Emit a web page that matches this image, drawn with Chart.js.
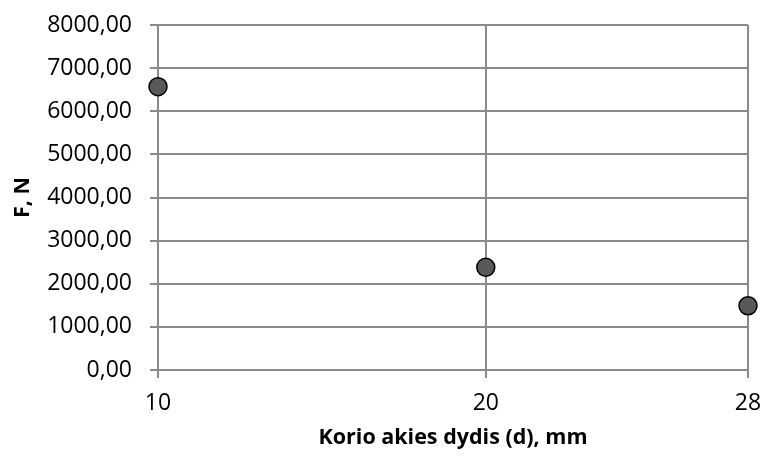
<!DOCTYPE html>
<html>
<head>
<meta charset="utf-8">
<script src="https://cdn.jsdelivr.net/npm/chart.js@4/dist/chart.umd.min.js"></script>
<style>
  html, body { margin: 0; padding: 0; background: #fff; }
  #wrap { width: 763px; height: 457px; }
</style>
</head>
<body>
<div id="wrap"><canvas id="jegaChart" width="763" height="457"></canvas></div>
<script>
// Duomenys: korio akies dydis (mm) ir jėga (N)
const akiesDydis = [10, 20, 28];
const jega = [6570, 2380, 1490];
const xTicks = [10, 20, 28];
const yMax = 8000;
const yStep = 1000;

const gridColor = '#8a8a8a';
const fontFamily = "'Open Sans', sans-serif";

const ctx = document.getElementById('jegaChart').getContext('2d');
const jegaChart = new Chart(ctx, {
  type: 'scatter',
  data: {
    datasets: [{
      label: 'F',
      data: akiesDydis.map((d, i) => ({ x: d, y: jega[i] })),
      backgroundColor: '#595959',
      borderColor: '#000',
      borderWidth: 1.5,
      pointRadius: 9,
      pointHoverRadius: 9,
      clip: false
    }]
  },
  options: {
    responsive: false,
    animation: false,
    layout: { padding: { top: 25, right: 15, left: 0, bottom: 0 } },
    plugins: {
      legend: { display: false },
      tooltip: { enabled: false }
    },
    scales: {
      x: {
        type: 'linear',
        min: xTicks[0],
        max: xTicks[xTicks.length - 1],
        afterBuildTicks: scale => {
          scale.ticks = xTicks.map(v => ({ value: v }));
        },
        afterFit: scale => {
          scale.height = 87;
          scale.paddingLeft = 0;
          scale.paddingRight = 0;
        },
        grid: { color: gridColor, lineWidth: 2, tickLength: 8 },
        border: { color: gridColor, width: 2 },
        ticks: {
          color: '#000',
          padding: 12,
          font: { family: fontFamily, size: 23 }
        },
        title: {
          display: true,
          text: 'Korio akies dydis (d), mm',
          color: '#000',
          padding: { top: 0, bottom: 6 },
          font: { family: fontFamily, size: 21.5, weight: 'bold' }
        }
      },
      y: {
        min: 0,
        max: yMax,
        afterFit: scale => {
          scale.width = 158;
          scale.paddingTop = 0;
          scale.paddingBottom = 0;
        },
        grid: { color: gridColor, lineWidth: 2, tickLength: 8 },
        border: { color: gridColor, width: 2 },
        ticks: {
          stepSize: yStep,
          color: '#000',
          padding: 18,
          font: { family: fontFamily, size: 23 },
          callback: v => v.toFixed(2).replace('.', ',')
        },
        title: {
          display: true,
          text: 'F, N',
          color: '#000',
          padding: { top: 10, bottom: 0 },
          font: { family: fontFamily, size: 21.5, weight: 'bold' }
        }
      }
    }
  }
});
</script>
</body>
</html>
